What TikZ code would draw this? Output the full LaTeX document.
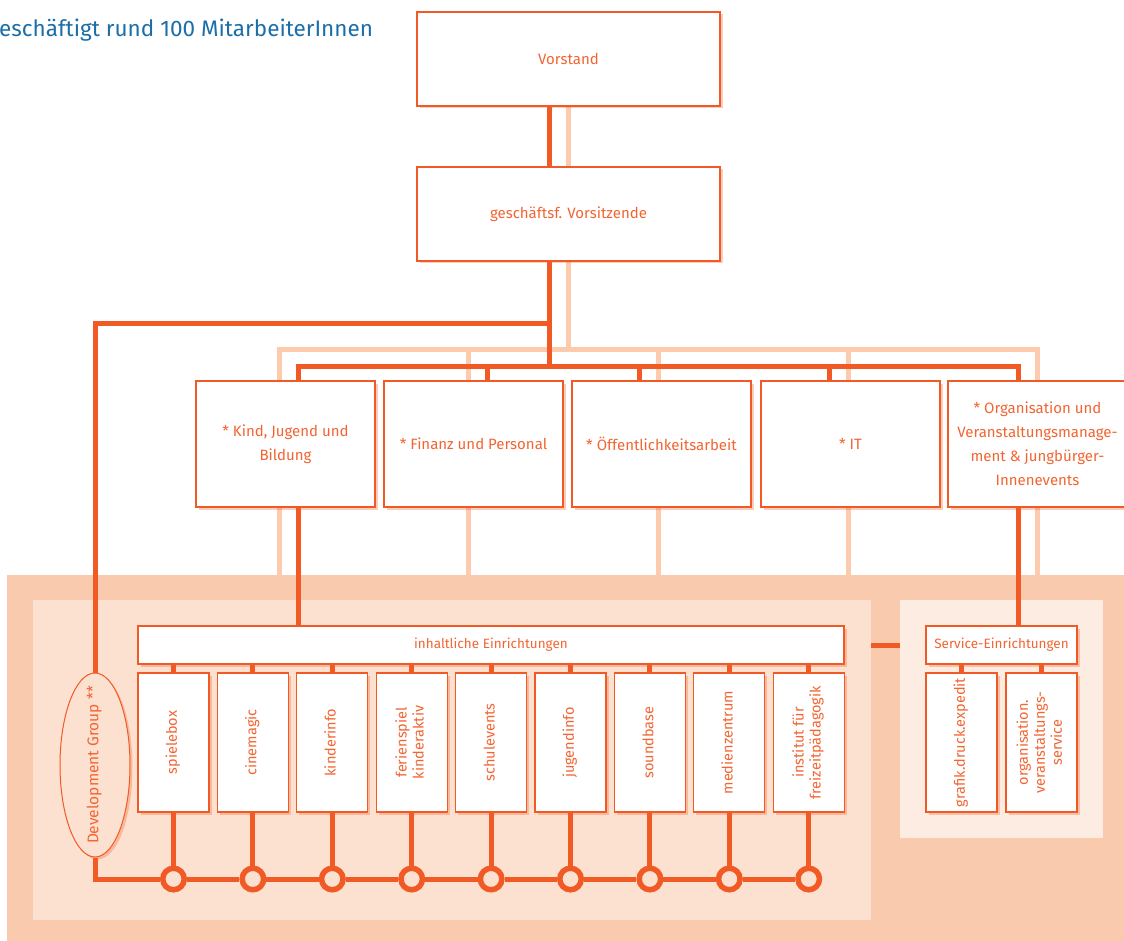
\documentclass[tikz,border=0pt]{standalone}
\usepackage{fontspec}
\setmainfont{Fira Sans}
\usetikzlibrary{shapes.geometric,shadows}
\definecolor{orgdark}{RGB}{241,90,36}
\definecolor{orgtext}{RGB}{242,101,50}
\definecolor{orglight}{RGB}{252,202,172}
\definecolor{panelout}{RGB}{250,202,175}
\definecolor{panelin}{RGB}{252,225,209}
\definecolor{panelserv}{RGB}{253,236,225}
\definecolor{infoblue}{RGB}{28,110,168}

\pgfdeclarelayer{lowest}
\pgfdeclarelayer{panelback}
\pgfdeclarelayer{between}
\pgfdeclarelayer{panelfront}
\pgfsetlayers{lowest,panelback,between,panelfront,main}

\newcommand\unitlabel[1]{\rotatebox{90}{\begin{tabular}{@{}c@{}}#1\end{tabular}}}

\tikzset{
  orgbox/.style={draw=orgdark, line width=1.2pt, fill=white, text=orgtext, inner sep=0pt, align=center,
    drop shadow={shadow xshift=2.5pt, shadow yshift=-2.5pt, fill=orgdark, opacity=0.3}},
  headbox/.style={orgbox, minimum width=303, minimum height=94, font=\fontsize{15}{23}\selectfont},
  deptbox/.style={orgbox, minimum width=179, minimum height=126, font=\fontsize{15}{24}\selectfont},
  groupbox/.style={orgbox, minimum height=38, font=\fontsize{13.5}{17}\selectfont},
  unitbox/.style={orgbox, minimum width=71, minimum height=139, font=\fontsize{14.5}{17}\selectfont},
  devgroup/.style={ellipse, draw=orgdark, line width=1pt, fill=panelin, inner sep=0pt,
    minimum width=70, minimum height=184,
    drop shadow={shadow xshift=2.5pt, shadow yshift=-2.5pt, fill=orgdark, opacity=0.3}},
  devtext/.style={text=orgtext, inner sep=0pt, font=\fontsize{15.5}{17}\selectfont},
  ring/.style={circle, draw=orgdark, line width=5.5pt, fill=panelin, minimum size=21.5, inner sep=0pt},
  darkline/.style={draw=orgdark, line width=5pt},
  lightline/.style={draw=orglight, line width=5pt, line cap=rect}
}

\begin{document}
\begin{tikzpicture}[x=1pt,y=-1pt]
  \useasboundingbox (0,0) rectangle (1124,941);
  % heading
  \node[anchor=base west, inner sep=0pt, text=infoblue, font=\fontsize{22.5}{26}\selectfont] (info) at (-1,37) {eschäftigt rund 100 MitarbeiterInnen};
  % top of the tree
  \node[headbox] (vorstand) at (568.5,59) {Vorstand};
  \node[headbox] (vors) at (568.5,214) {geschäftsf. Vorsitzende};
  % departments
  \node[deptbox] (kind) at (285.5,444) {* Kind, Jugend und\\Bildung};
  \node[deptbox] (fin) at (473.5,444) {* Finanz und Personal};
  \node[deptbox] (oef) at (661.5,444) {* Öffentlichkeitsarbeit};
  \node[deptbox] (it) at (850.5,444) {* IT};
  \node[deptbox] (org) at (1037.5,444) {* Organisation und\\Veranstaltungsmanage-\\ment \& jungbürger-\\Innenevents};
  % bar heights
  \coordinate (dgbar) at (0,323);
  \coordinate (lbar) at (0,349);
  \coordinate (dbar) at (0,366);
  \coordinate (paneltop) at (0,590);
  \coordinate (ringrow) at (0,879);
  % institutions
  \node[groupbox, minimum width=706] (inhalt) at (491,645) {inhaltliche Einrichtungen};
  \node[groupbox, minimum width=151] (serv) at (1001.5,645) {Service-Einrichtungen};
  \foreach \t [count=\i] in {spielebox, cinemagic, kinderinfo, {ferienspiel\\kinderaktiv}, schulevents,
      jugendinfo, soundbase, medienzentrum, {institut für\\freizeitpädagogik}}
    \node[unitbox] (u\i) at ({173.5+79.4*(\i-1)},742.5) {\unitlabel{\t}};
  \node[unitbox] (g1) at (961.5,742.5) {\unitlabel{grafik.druck.expedit}};
  \node[unitbox] (g2) at (1041.5,742.5) {\unitlabel{organisation.\\veranstaltungs-\\service}};
  \node[devgroup, label={[devtext]center:\unitlabel{Development Group **}}] (dev) at (95,765) {};
  \foreach \i in {1,...,9}
    \node[ring] (c\i) at (u\i |- ringrow) {};

  % light lines, running behind boxes and panel
  \begin{pgfonlayer}{lowest}
    \draw[lightline] (vorstand) -- (vors.center |- lbar);
    \draw[lightline] ([xshift=-6.5]kind.center |- lbar) -- ([xshift=-0.5]org.center |- lbar);
    \foreach \n/\o in {kind/-6.5, fin/-5.5, oef/-3.5, it/-2.5, org/-0.5}
      \draw[lightline] ([xshift=\o]\n.center |- lbar) -- ([xshift=\o]\n.center |- paneltop);
  \end{pgfonlayer}
  % panels
  \begin{pgfonlayer}{panelback}
    \fill[panelout] (7,575) rectangle (1130,945);
  \end{pgfonlayer}
  \begin{pgfonlayer}{between}
    \draw[darkline] (inhalt.east) -- (serv.west);
  \end{pgfonlayer}
  \begin{pgfonlayer}{panelfront}
    \fill[panelin] (33,600) rectangle (871,920);
    \fill[panelserv] (900,600) rectangle (1103,838);
  \end{pgfonlayer}

  % dark lines
  \draw[darkline] ([xshift=-19.5]vorstand.south) -- ([xshift=-19.5]vors.north);
  \draw[darkline] ([xshift=-19.5]vors.south) -- ([xshift=-19.5]vors.south |- dbar);
  \draw[darkline] ([xshift=-19.5]vors.south |- dgbar) -| (dev.north);
  \draw[darkline] ([xshift=12.5]kind.north) |- ([xshift=-19.5]org.north |- dbar) -- ([xshift=-19.5]org.north);
  \foreach \n/\o in {fin/13.5, oef/-22.5, it/-21.5}
    \draw[darkline] ([xshift=\o]\n.north |- dbar) -- ([xshift=\o]\n.north);
  \draw[darkline] ([xshift=12.5]kind.south) -- ([xshift=12.5]kind.south |- inhalt.north);
  \draw[darkline] ([xshift=-19.5]org.south) -- ([xshift=-19.5]org.south |- serv.north);
  % stubs and rings
  \foreach \i in {1,...,9} {
    \draw[darkline] (u\i.north |- inhalt.south) -- (u\i.north);
    \draw[darkline] (u\i.south) -- (c\i.north);
  }
  \draw[darkline] (g1.north |- serv.south) -- (g1.north);
  \draw[darkline] (g2.north |- serv.south) -- (g2.north);
  \draw[darkline] (dev.south) |- (c1.west);
  \foreach \i/\j in {1/2,2/3,3/4,4/5,5/6,6/7,7/8,8/9}
    \draw[darkline] (c\i.east) -- (c\j.west);
\end{tikzpicture}
\end{document}
